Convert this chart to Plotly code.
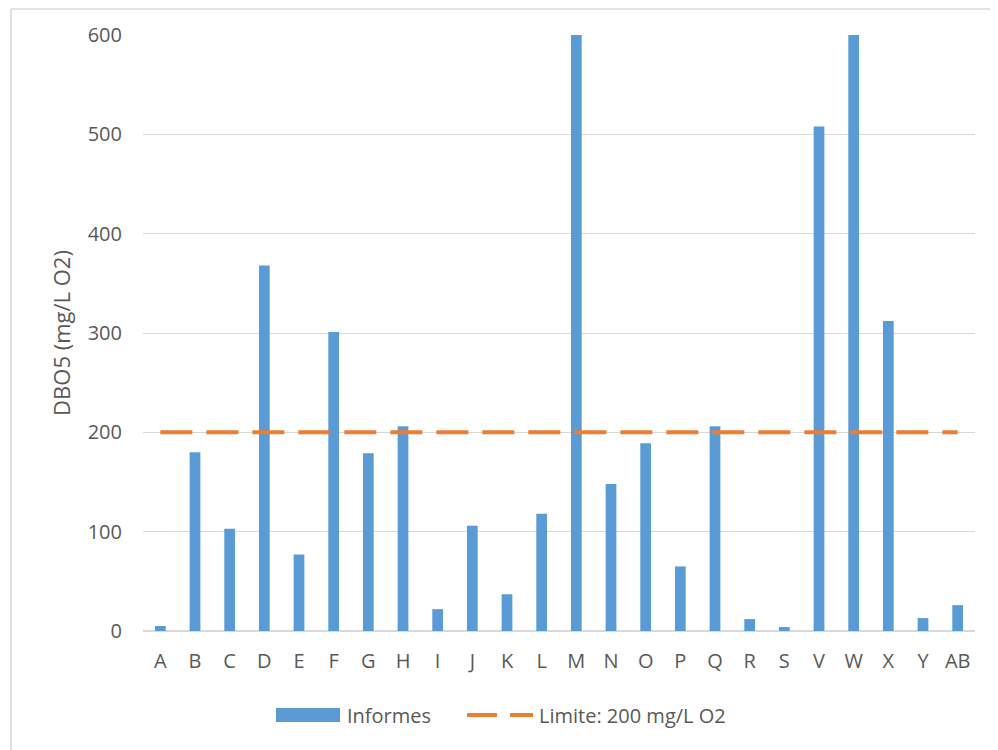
import plotly.graph_objects as go

categories = ["A", "B", "C", "D", "E", "F", "G", "H", "I", "J", "K", "L",
              "M", "N", "O", "P", "Q", "R", "S", "V", "W", "X", "Y", "AB"]
informes = [5, 180, 103, 368, 77, 301, 179, 206, 22, 106, 37, 118,
            600, 148, 189, 65, 206, 12, 4, 508, 600, 312, 13, 26]
limite = [200] * len(categories)
y_ticks = [0, 100, 200, 300, 400, 500, 600]

FONT = "Open Sans"
FS = 20
TXT = "#595959"
BLUE = "#5B9BD5"
ORANGE = "#ED7D31"
GRID = "#D9D9D9"

fig = go.Figure()
fig.add_trace(go.Bar(
    x=categories, y=informes, name="Informes", showlegend=False,
    marker=dict(color=BLUE, line=dict(width=0)),
))
fig.add_trace(go.Scatter(
    x=categories, y=limite, name="Limite: 200 mg/L O2", mode="lines", showlegend=False,
    line=dict(color=ORANGE, width=4, dash="32px,14px"),
))

OFF = 8  # page body margin
L, R, T, B = 143 - OFF, 23, 35 - OFF, 119
W, H = 998 - OFF, 750 - OFF
pw, ph = W - L - R, H - T - B

def px_x(px):
    return (px - OFF - L) / pw

def px_y(py):
    return (H - B - (py - OFF)) / ph

LEG_Y = 715
shapes = [
    # chart-area border (top and left visible)
    dict(type="line", xref="paper", yref="paper",
         x0=px_x(11), x1=px_x(1000), y0=px_y(9), y1=px_y(9),
         line=dict(color=GRID, width=1.5)),
    dict(type="line", xref="paper", yref="paper",
         x0=px_x(11), x1=px_x(11), y0=px_y(9), y1=px_y(752),
         line=dict(color=GRID, width=1.5)),
    # legend swatches
    dict(type="rect", xref="paper", yref="paper",
         x0=px_x(276), x1=px_x(340), y0=px_y(LEG_Y - 7), y1=px_y(LEG_Y + 7),
         fillcolor=BLUE, line=dict(width=0)),
    dict(type="line", xref="paper", yref="paper",
         x0=px_x(467), x1=px_x(497), y0=px_y(LEG_Y), y1=px_y(LEG_Y),
         line=dict(color=ORANGE, width=4)),
    dict(type="line", xref="paper", yref="paper",
         x0=px_x(510), x1=px_x(533), y0=px_y(LEG_Y), y1=px_y(LEG_Y),
         line=dict(color=ORANGE, width=4)),
]
annotations = [
    dict(xref="paper", yref="paper", x=px_x(345), y=px_y(LEG_Y), xanchor="left",
         yanchor="middle", text="Informes", showarrow=False,
         font=dict(family=FONT, size=FS, color=TXT)),
    dict(xref="paper", yref="paper", x=px_x(537), y=px_y(LEG_Y), xanchor="left",
         yanchor="middle", text="Limite: 200 mg/L O2", showarrow=False,
         font=dict(family=FONT, size=FS, color=TXT)),
]

fig.update_layout(
    width=W, height=H,
    margin=dict(l=L, r=R, t=T, b=B),
    paper_bgcolor="white", plot_bgcolor="white",
    font=dict(family=FONT, size=FS, color=TXT),
    bargap=0.69,
    showlegend=False,
    xaxis=dict(showgrid=False, showline=True, linecolor=GRID, linewidth=1,
               tickfont=dict(family=FONT, size=FS, color=TXT), ticks="",
               ticklabelstandoff=12),
    yaxis=dict(range=[0, 600], tickvals=y_ticks, showgrid=True, gridcolor=GRID,
               gridwidth=1, zeroline=True, zerolinecolor=GRID, showline=False,
               tickfont=dict(family=FONT, size=FS, color=TXT), ticks="",
               ticklabelstandoff=20,
               title=dict(text="DBO5 (mg/L O2)", font=dict(family=FONT, size=22, color=TXT),
                          standoff=10)),
    shapes=shapes,
    annotations=annotations,
)

fig.write_html("out.html")
